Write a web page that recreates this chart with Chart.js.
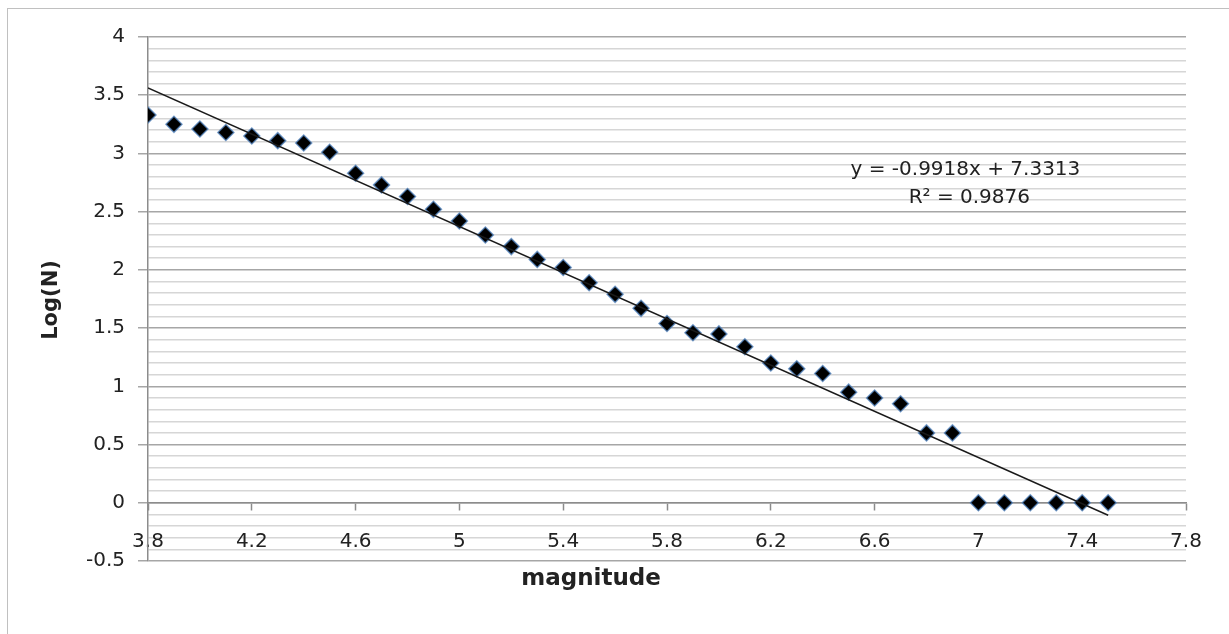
<!DOCTYPE html>
<html>
<head>
<meta charset="utf-8">
<script src="https://cdn.jsdelivr.net/npm/chart.js@4/dist/chart.umd.min.js"></script>
<style>
    body { margin: 0; background: #ffffff; }
    #marco { position: absolute; left: 7px; top: 8px; width: 1260px; height: 700px; border: 1.5px solid #c0c0c0; }
    #grafico { position: absolute; left: 0; top: 0; }
</style>
</head>
<body>
<div id="marco"></div>
<canvas id="grafico" width="1229" height="634"></canvas>
<script>
// DATOS
const magnitudes = [3.8, 3.9, 4.0, 4.1, 4.2, 4.3, 4.4, 4.5, 4.6, 4.7, 4.8, 4.9, 5.0, 5.1, 5.2, 5.3, 5.4, 5.5, 5.6,
    5.7, 5.8, 5.9, 6.0, 6.1, 6.2, 6.3, 6.4, 6.5, 6.6, 6.7, 6.8, 6.9, 7.0, 7.1, 7.2, 7.3, 7.4, 7.5];
const logN = [3.33, 3.25, 3.21, 3.18, 3.15, 3.11, 3.09, 3.01, 2.83, 2.73, 2.63, 2.52, 2.42, 2.30, 2.20, 2.09, 2.02, 1.89, 1.79,
    1.67, 1.54, 1.46, 1.45, 1.34, 1.20, 1.15, 1.11, 0.95, 0.90, 0.85, 0.60, 0.60, 0, 0, 0, 0, 0, 0];
// linea de tendencia (Excel)
const pendiente = -0.9918;
const intercepto = 7.3313;
const r2 = 0.9876;
const ecuacion = ['y = -0.9918x + 7.3313', 'R\u00b2 = 0.9876'];

const puntos = magnitudes.map((m, i) => ({ x: m, y: logN[i] }));
const xIni = magnitudes[0];
const xFin = magnitudes[magnitudes.length - 1];
const tendencia = [
    { x: xIni, y: pendiente * xIni + intercepto },
    { x: xFin, y: pendiente * xFin + intercepto }
];

const esMayor = v => Math.abs(v * 2 - Math.round(v * 2)) < 1e-6;
const etiqueta = v => String(Math.round(v * 10) / 10);

// textos: ecuacion y titulos de ejes
const textos = {
    id: 'textos',
    afterDraw(chart) {
        const c = chart.ctx;
        const sx = chart.scales.x, sy = chart.scales.y;
        c.save();
        c.fillStyle = '#222222';
        c.textAlign = 'center';
        c.textBaseline = 'middle';
        c.font = '20px "DejaVu Sans"';
        c.fillText(ecuacion[0], sx.getPixelForValue(6.95), sy.getPixelForValue(2.86));
        c.fillText(ecuacion[1], sx.getPixelForValue(6.965), sy.getPixelForValue(2.62));
        c.font = 'bold 23px "DejaVu Sans"';
        c.fillText('magnitude', 591, 579);
        c.translate(52, 300);
        c.rotate(-Math.PI / 2);
        c.font = 'bold 21px "DejaVu Sans"';
        c.fillText('Log(N)', 0, 0);
        c.restore();
    }
};

document.addEventListener('DOMContentLoaded', function() {
    const ctx = document.getElementById('grafico').getContext('2d');

    const grafico = new Chart(ctx, {
        type: 'scatter',
        data: {
            datasets: [{
                label: 'tendencia',
                data: tendencia,
                showLine: true,
                borderColor: '#1a1a1a',
                borderWidth: 1.4,
                pointRadius: 0,
                order: 0
            }, {
                label: 'Log(N)',
                data: puntos,
                pointStyle: 'rectRot',
                pointRadius: 8,
                backgroundColor: '#000000',
                borderColor: 'rgba(79,129,189,0.75)',
                borderWidth: 1.5,
                order: 1
            }]
        },
        options: {
            responsive: false,
            animation: false,
            layout: {
                padding: { top: 37, right: 43, bottom: 73, left: 0 }
            },
            plugins: {
                legend: { display: false },
                tooltip: { enabled: false }
            },
            scales: {
                x: {
                    type: 'linear',
                    position: { y: 0 },
                    min: 3.8,
                    max: 7.8,
                    ticks: {
                        stepSize: 0.4,
                        padding: 20,
                        color: '#222222',
                        font: { family: 'DejaVu Sans', size: 20 },
                        callback: etiqueta
                    },
                    grid: {
                        drawOnChartArea: false,
                        drawTicks: true,
                        tickLength: 7,
                        tickColor: '#8c8c8c',
                        tickWidth: 1.5
                    },
                    border: { color: '#8c8c8c', width: 1.5 }
                },
                y: {
                    min: -0.5,
                    max: 4,
                    afterFit: s => { s.width = 148; },
                    ticks: {
                        stepSize: 0.1,
                        autoSkip: false,
                        maxTicksLimit: 100,
                        padding: 13,
                        color: '#222222',
                        font: { family: 'DejaVu Sans', size: 20 },
                        callback: v => esMayor(v) ? etiqueta(v) : ''
                    },
                    grid: {
                        tickLength: 10,
                        color: c => esMayor(c.tick.value) ? '#a6a6a6' : '#d6d6d6',
                        tickColor: c => esMayor(c.tick.value) ? '#a6a6a6' : 'rgba(0,0,0,0)',
                        lineWidth: 1.5
                    },
                    border: { color: '#8c8c8c', width: 1.5 }
                }
            }
        },
        plugins: [textos]
    });
});
</script>
</body>
</html>
